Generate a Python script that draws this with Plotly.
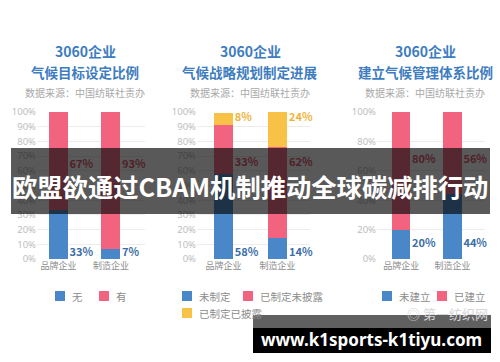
import plotly.graph_objects as go

# ---------------- data ----------------
categories = ["品牌企业", "制造企业"]

p1_titles = ["3060企业", "气候目标设定比例"]
p1_names = ["无", "有"]
p1_none = [33, 7]
p1_have = [67, 93]

p2_titles = ["3060企业", "气候战略规划制定进展"]
p2_names = ["未制定", "已制定未披露", "已制定已披露"]
p2_not = [58, 14]
p2_undisclosed = [33, 62]
p2_disclosed = [8, 24]

p3_titles = ["3060企业", "建立气候管理体系比例"]
p3_names = ["未建立", "已建立"]
p3_not = [20, 44]
p3_built = [80, 56]

source_text = "数据来源：中国纺联社责办"
banner_text = "欧盟欲通过CBAM机制推动全球碳减排行动"
site_text = "www.k1sports-k1tiyu.com"
mark_text = "第一纺织网"

ticks_10 = list(range(0, 101, 10))
ticks_20 = list(range(0, 101, 20))

# ---------------- style ----------------
W, H = 500, 362
BLUE = "#4a87c8"
PINK = "#f2637f"
YELLOW = "#f7c245"
BLUE_TXT = "#3c6ea8"
PINK_TXT = "#e0506c"
YEL_TXT = "#eeb43a"
TITLE = "#3d7cc0"
FONT = "Noto Sans CJK SC"


def px(x):
    return x / W


def py(y):
    return 1 - y / H


ydom = [py(259), py(112)]
panels = [
    dict(dom=[px(37), px(145)], rng=[-0.41, 1.65], cx=85, ticks=ticks_10),
    dict(dom=[px(197), px(310)], rng=[-0.49, 1.60], cx=250, ticks=ticks_10),
    dict(dom=[px(377), px(485)], rng=[-0.47, 1.63], cx=425, ticks=ticks_20),
]
BW = 0.36
xs = [0, 1]

fig = go.Figure()


def add_bars(k, series):
    ax = "" if k == 0 else str(k + 1)
    for name, vals, col in series:
        fig.add_trace(go.Bar(x=xs, y=vals, name=name, marker_color=col,
                             marker_line_width=0,
                             width=BW, xaxis="x" + ax, yaxis="y" + ax,
                             showlegend=False, hoverinfo="y+name"))


def add_labels(k, vals, ypos, col):
    ax = "" if k == 0 else str(k + 1)
    fig.add_trace(go.Scatter(
        x=[v + BW / 2 + 0.03 for v in xs], y=[ypos, ypos],
        text=[f"{v}%" for v in vals], mode="text", textposition="middle right",
        textfont=dict(family=FONT, size=11, color=col, weight="bold"),
        cliponaxis=False,
        xaxis="x" + ax, yaxis="y" + ax, showlegend=False, hoverinfo="skip"))


add_bars(0, [(p1_names[0], p1_none, BLUE), (p1_names[1], p1_have, PINK)])
add_labels(0, p1_none, 4, BLUE_TXT)
add_labels(0, p1_have, 64, PINK_TXT)

add_bars(1, [(p2_names[0], p2_not, BLUE), (p2_names[1], p2_undisclosed, PINK),
             (p2_names[2], p2_disclosed, YELLOW)])
add_labels(1, p2_not, 4, BLUE_TXT)
add_labels(1, p2_undisclosed, 65, PINK_TXT)
add_labels(1, p2_disclosed, 95.5, YEL_TXT)

add_bars(2, [(p3_names[0], p3_not, BLUE), (p3_names[1], p3_built, PINK)])
add_labels(2, p3_not, 10, BLUE_TXT)
add_labels(2, p3_built, 67, PINK_TXT)

layout = dict(
    template="none",
    width=W, height=H, autosize=False,
    margin=dict(l=0, r=0, t=0, b=0, pad=0),
    paper_bgcolor="white", plot_bgcolor="rgba(0,0,0,0)",
    barmode="stack", font=dict(family=FONT), showlegend=False,
)
for k, p in enumerate(panels):
    ax = "" if k == 0 else str(k + 1)
    layout["xaxis" + ax] = dict(
        domain=p["dom"], range=p["rng"], tickvals=xs, ticktext=categories,
        showgrid=False, zeroline=False, showline=False, ticks="",
        automargin=False,
        tickfont=dict(family=FONT, size=9, color="#8c8c8c"),
        anchor="y" + ax, fixedrange=True)
    layout["yaxis" + ax] = dict(
        domain=ydom, range=[0, 100], tickvals=p["ticks"],
        ticktext=[f"{t}%" for t in p["ticks"]], ticks="", automargin=False,
        showgrid=True, gridcolor="#ececec", gridwidth=1, zeroline=False,
        showline=False,
        tickfont=dict(family="Noto Sans", size=9.5, color="#bdbdbd"),
        anchor="x" + ax, fixedrange=True)
fig.update_layout(**layout)

ann = []
shapes = []


def text(x, y, t, font, xanchor="center"):
    ann.append(dict(x=px(x), y=py(y), xref="paper", yref="paper",
                    xanchor=xanchor, yanchor="middle", text=t,
                    showarrow=False, font=font))


titles = [p1_titles, p2_titles, p3_titles]
for k, p in enumerate(panels):
    text(p["cx"], 51, titles[k][0],
         dict(family=FONT, size=14, color=TITLE, weight="bold"))
    text(p["cx"], 72, titles[k][1],
         dict(family=FONT, size=13.5, color=TITLE, weight="bold"))
    text(p["cx"], 93, source_text, dict(family=FONT, size=10, color="#a9a9a9"))

# legends
legend_items = [
    (55, 296, BLUE, p1_names[0]), (99, 296, PINK, p1_names[1]),
    (182, 296, BLUE, p2_names[0]), (243, 296, PINK, p2_names[1]),
    (182, 313, YELLOW, p2_names[2]),
    (382, 296, BLUE, p3_names[0]), (437, 296, PINK, p3_names[1]),
]
for x0, yc, col, name in legend_items:
    shapes.append(dict(type="rect", xref="paper", yref="paper",
                       x0=px(x0), x1=px(x0 + 10), y0=py(yc - 5), y1=py(yc + 5),
                       fillcolor=col, line=dict(width=0)))
    text(x0 + 15, yc, name, dict(family=FONT, size=10.5, color="#8c8c8c"),
         xanchor="left")

# faint watermark
text(490, 313, "◎ " + mark_text, dict(family=FONT, size=13, color="#d6d6d6"),
     xanchor="right")

# dark banner
shapes.append(dict(type="rect", xref="paper", yref="paper", layer="above",
                   x0=px(11), x1=px(490), y0=py(214), y1=py(148),
                   fillcolor="rgba(10,10,10,0.68)", line=dict(width=0)))
text(250, 186, banner_text,
     dict(family=FONT, size=25.3, color="white", weight="bold"))

# site box
shapes.append(dict(type="rect", xref="paper", yref="paper", layer="above",
                   x0=px(253), x1=px(491), y0=py(328), y1=py(315),
                   fillcolor="rgba(20,20,20,0.68)", line=dict(width=0)))
shapes.append(dict(type="rect", xref="paper", yref="paper", layer="above",
                   x0=px(253), x1=px(491), y0=py(353), y1=py(328),
                   fillcolor="black", line=dict(width=0)))
text(371, 339, site_text,
     dict(family="Noto Sans", size=17, color="white", weight="bold"))

fig.update_layout(annotations=ann, shapes=shapes)
fig.write_html(
    "out.html",
    config={"displayModeBar": False, "staticPlot": True},
    post_script="document.body.style.margin='0';"
                "document.documentElement.style.overflow='hidden';",
)
